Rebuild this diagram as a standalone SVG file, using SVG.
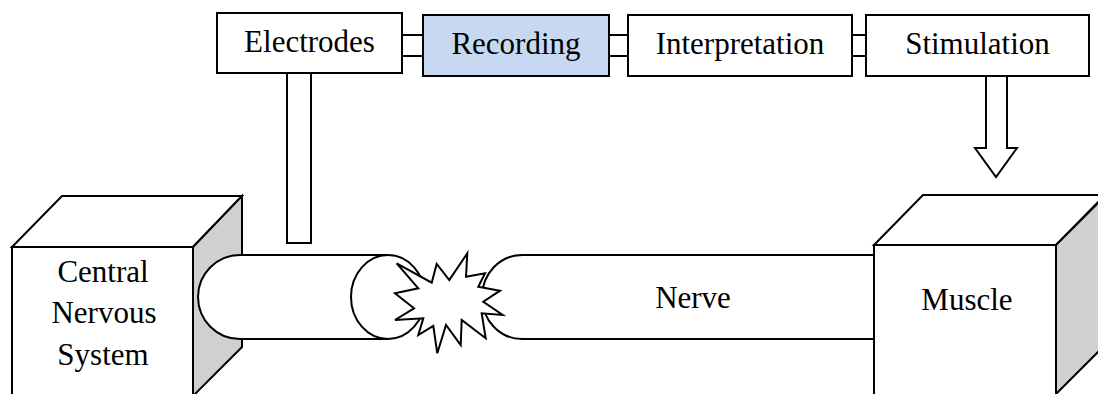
<svg xmlns="http://www.w3.org/2000/svg" width="1098" height="394" viewBox="0 0 1098 394">
  <style>
    .box { fill: #ffffff; stroke: #000000; stroke-width: 2; }
    .hl { fill: #c6d9f1; stroke: #000000; stroke-width: 2; }
    .side { fill: #d0d0d0; stroke: #000000; stroke-width: 2; stroke-linejoin: miter; }
    .link { fill: #ffffff; stroke: #000000; stroke-width: 2; }
    .lbl { font-family: "Liberation Serif", "Times New Roman", serif; font-size: 31px; fill: #000000; text-anchor: middle; }
  </style>

  <!-- processing chain boxes -->
  <g id="electrodes">
    <rect class="box" x="217" y="13" width="185" height="60"/>
    <text class="lbl" x="309.5" y="52">Electrodes</text>
  </g>
  <g id="recording">
    <rect class="hl" x="423" y="15" width="186" height="61"/>
    <text class="lbl" x="516" y="54">Recording</text>
  </g>
  <g id="interpretation">
    <rect class="box" x="628" y="15" width="224" height="61"/>
    <text class="lbl" x="740" y="54">Interpretation</text>
  </g>
  <g id="stimulation">
    <rect class="box" x="866" y="15" width="223" height="61"/>
    <text class="lbl" x="977.5" y="54">Stimulation</text>
  </g>

  <!-- central nervous system block -->
  <g id="cns">
    <polygon class="box" points="12,247 62,196 242,196 193,247"/>
    <polygon class="side" points="193,247 242,196 242,347 193,396"/>
    <rect class="box" x="12" y="247" width="181" height="160"/>
    <text class="lbl" x="103" y="282">Central</text>
    <text class="lbl" x="104" y="323">Nervous</text>
    <text class="lbl" x="103" y="365">System</text>
  </g>

  <!-- nerve: cut cylinder and continuing fibre -->
  <g id="nerve">
    <path class="box" d="M522,255 H880 V339 H522 A40 42 0 0 1 522,255 Z"/>
    <text class="lbl" x="693" y="308">Nerve</text>
  </g>
  <g id="nerve-stump">
    <path class="box" d="M240,255 H388 V339 H240 A42 42 0 0 1 240,255 Z"/>
    <ellipse class="box" cx="388" cy="297" rx="37" ry="42"/>
  </g>

  <!-- lesion burst -->
  <g id="lesion">
    <polygon class="box" stroke-linejoin="miter" points="396.7,263.3 431.7,282.7 436.7,264 449.3,280 467.3,253.3 466,276.7 485,273.3 478.3,286.7 500,290.7 483.3,301.7 502.7,315 481.7,313.3 485.7,338.3 461.7,320 460.7,345 446,325 437.3,353.3 433.3,326 418.3,335 423.3,318.3 395,320 414,308.3 395,293.3 418.3,288.3"/>
  </g>

  <!-- muscle block -->
  <g id="muscle">
    <polygon class="box" points="874,245 923,195 1105,195 1056,245"/>
    <polygon class="side" points="1056,245 1105,196 1105,345 1056,394"/>
    <rect class="box" x="874" y="245" width="182" height="160"/>
    <text class="lbl" x="967" y="310">Muscle</text>
  </g>

  <!-- connectors -->
  <g id="connectors">
    <rect class="link" x="402" y="35" width="21" height="21"/>
    <rect class="link" x="609" y="35" width="19" height="21"/>
    <rect class="link" x="852" y="35" width="14" height="21"/>
    <rect class="link" x="287" y="73" width="24" height="170"/>
    <polygon class="link" points="986,76 1007,76 1007,148 1017,148 996,177 975,148 986,148"/>
  </g>
</svg>
